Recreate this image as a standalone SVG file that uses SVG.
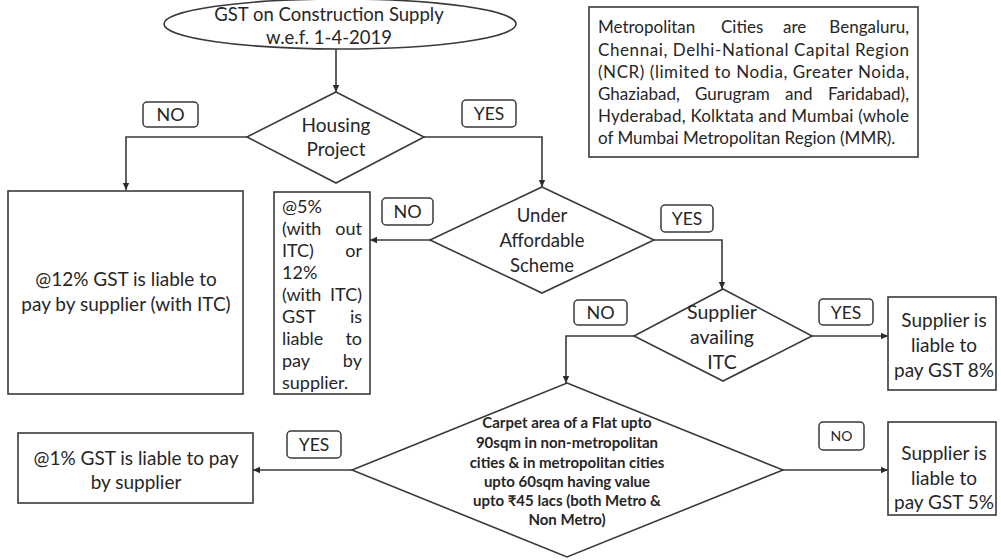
<svg xmlns="http://www.w3.org/2000/svg" width="1001" height="560" viewBox="0 0 1001 560">
<defs>
<style>
.sh{fill:#fff;stroke:#3a3a3a;stroke-width:1.6}
.lb{fill:#fff;stroke:#3a3a3a;stroke-width:1.5}
.t{font-family:Lato,"Liberation Sans",sans-serif;fill:#262626}
.c{text-anchor:middle}
.e{text-anchor:end}
.b{font-weight:bold}
.cn{fill:none;stroke:#3a3a3a;stroke-width:1.6}
</style>
<marker id="ah" markerUnits="userSpaceOnUse" markerWidth="8" markerHeight="8" refX="7" refY="4" orient="auto">
<path d="M0,0.8 L7,4 L0,7.2 z" fill="#2b2b2b"/>
</marker>
</defs>
<rect width="1001" height="560" fill="#fff"/>

<g id="connectors">
<path class="cn" d="M336,48 V92" marker-end="url(#ah)"/>
<path class="cn" d="M247,137 H126 V190" marker-end="url(#ah)"/>
<path class="cn" d="M424,137 H542 V187" marker-end="url(#ah)"/>
<path class="cn" d="M430,240 H370" marker-end="url(#ah)"/>
<path class="cn" d="M654,240 H722 V289" marker-end="url(#ah)"/>
<path class="cn" d="M812,336 H888" marker-end="url(#ah)"/>
<path class="cn" d="M634,336 H566 V383" marker-end="url(#ah)"/>
<path class="cn" d="M352,470 H253" marker-end="url(#ah)"/>
<path class="cn" d="M783,470 H888" marker-end="url(#ah)"/>
</g>

<g id="start">
<ellipse class="sh" cx="340" cy="24" rx="176" ry="25"/>
<text class="t c" x="329" y="21" font-size="18.5">GST on Construction Supply</text>
<text class="t c" x="329" y="44" font-size="18.5">w.e.f. 1-4-2019</text>
</g>

<g id="metro-note">
<rect class="sh" x="589" y="7" width="329" height="150"/>
<g class="t" font-size="17">
<text x="598" y="33">Metropolitan</text>
<text x="721" y="33">Cities</text>
<text x="783" y="33">are</text>
<text class="e" x="909" y="33">Bengaluru,</text>
<text x="598" y="56" textLength="311" lengthAdjust="spacing">Chennai, Delhi-National Capital Region</text>
<text x="598" y="78" textLength="311" lengthAdjust="spacing">(NCR) (limited to Nodia, Greater Noida,</text>
<text x="598" y="100">Ghaziabad,</text>
<text x="695" y="100">Gurugram</text>
<text x="785" y="100">and</text>
<text class="e" x="909" y="100">Faridabad),</text>
<text x="598" y="122" textLength="311" lengthAdjust="spacing">Hyderabad, Kolktata and Mumbai (whole</text>
<text x="598" y="144">of Mumbai Metropolitan Region (MMR).</text>
</g>
</g>

<g id="housing">
<polygon class="sh" points="336,92 424,137 336,183 247,137"/>
<text class="t c" x="336" y="132" font-size="19">Housing</text>
<text class="t c" x="336" y="156" font-size="19">Project</text>
</g>

<g id="lbl-no-1">
<rect class="lb" x="143" y="102" width="55" height="25" rx="4"/>
<text class="t c" x="170.5" y="121" font-size="18">NO</text>
</g>
<g id="lbl-yes-1">
<rect class="lb" x="462" y="100" width="54" height="27" rx="4"/>
<text class="t c" x="489" y="120" font-size="17.5">YES</text>
</g>

<g id="gst12">
<rect class="sh" x="8" y="191" width="235" height="203"/>
<text class="t c" x="126" y="286" font-size="19">@12% GST is liable to</text>
<text class="t c" x="126" y="311" font-size="19">pay by supplier (with ITC)</text>
</g>

<g id="gst5-12">
<rect class="sh" x="274" y="192" width="96" height="202"/>
<g class="t" font-size="18">
<text x="282" y="213">@5%</text>
<text x="282" y="235">(with</text><text class="e" x="362" y="235">out</text>
<text x="282" y="257">ITC)</text><text class="e" x="362" y="257">or</text>
<text x="282" y="279">12%</text>
<text x="282" y="301">(with</text><text class="e" x="362" y="301">ITC)</text>
<text x="282" y="323">GST</text><text class="e" x="362" y="323">is</text>
<text x="282" y="345">liable</text><text class="e" x="362" y="345">to</text>
<text x="282" y="367">pay</text><text class="e" x="362" y="367">by</text>
<text x="282" y="389">supplier.</text>
</g>
</g>

<g id="affordable">
<polygon class="sh" points="542,187 654,240 542,293 430,240"/>
<text class="t c" x="542" y="222" font-size="18.5">Under</text>
<text class="t c" x="542" y="247" font-size="18.5">Affordable</text>
<text class="t c" x="542" y="272" font-size="18.5">Scheme</text>
</g>

<g id="lbl-no-2">
<rect class="lb" x="382" y="198" width="51" height="27" rx="4"/>
<text class="t c" x="407.5" y="218" font-size="18">NO</text>
</g>
<g id="lbl-yes-2">
<rect class="lb" x="661" y="205" width="52" height="27" rx="4"/>
<text class="t c" x="687" y="225" font-size="17.5">YES</text>
</g>

<g id="itc">
<polygon class="sh" points="723,289 812,336 723,381 634,336"/>
<text class="t c" x="722" y="319" font-size="19.5">Supplier</text>
<text class="t c" x="722" y="344" font-size="19.5">availing</text>
<text class="t c" x="722" y="369" font-size="19.5">ITC</text>
</g>

<g id="lbl-no-3">
<rect class="lb" x="574" y="300" width="53" height="25" rx="4"/>
<text class="t c" x="600.5" y="319" font-size="18">NO</text>
</g>
<g id="lbl-yes-3">
<rect class="lb" x="819" y="299" width="54" height="26" rx="4"/>
<text class="t c" x="846" y="319" font-size="17.5">YES</text>
</g>

<g id="gst8">
<rect class="sh" x="888" y="297" width="108" height="93"/>
<text class="t c" x="944" y="327" font-size="19">Supplier is</text>
<text class="t c" x="944" y="352" font-size="19">liable to</text>
<text class="t c" x="944" y="377" font-size="19">pay GST 8%</text>
</g>

<g id="carpet">
<polygon class="sh" points="567,383 783,470 567,557 352,470"/>
<g class="t c b" font-size="15">
<text x="567" y="428">Carpet area of a Flat upto</text>
<text x="567" y="448">90sqm in non-metropolitan</text>
<text x="567" y="468">cities &amp; in metropolitan cities</text>
<text x="567" y="487">upto 60sqm having value</text>
<text x="567" y="506">upto ₹45 lacs (both Metro &amp;</text>
<text x="567" y="525">Non Metro)</text>
</g>
</g>

<g id="lbl-yes-4">
<rect class="lb" x="287" y="431" width="54" height="27" rx="4"/>
<text class="t c" x="314" y="451" font-size="17.5">YES</text>
</g>
<g id="lbl-no-4">
<rect class="lb" x="819" y="422" width="45" height="28" rx="4"/>
<text class="t c" x="841.5" y="441" font-size="14">NO</text>
</g>

<g id="gst1">
<rect class="sh" x="18" y="433" width="235" height="70"/>
<text class="t c" x="136" y="465" font-size="19">@1% GST is liable to pay</text>
<text class="t c" x="136" y="489" font-size="19">by supplier</text>
</g>

<g id="gst5">
<rect class="sh" x="888" y="422" width="108" height="93"/>
<text class="t c" x="944" y="460" font-size="19">Supplier is</text>
<text class="t c" x="944" y="485" font-size="19">liable to</text>
<text class="t c" x="944" y="509" font-size="19">pay GST 5%</text>
</g>
</svg>
